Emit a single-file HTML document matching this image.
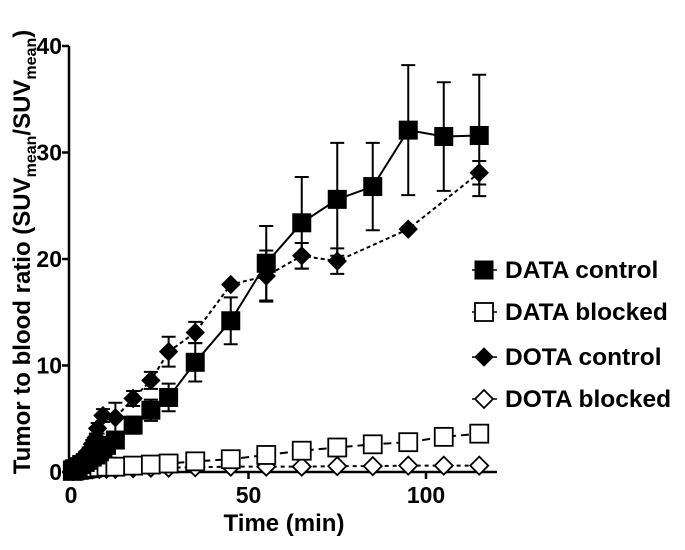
<!DOCTYPE html>
<html><head><meta charset="utf-8"><style>
body{margin:0;background:#fff;}
svg text{font-family:"Liberation Sans",Arial,sans-serif;font-weight:bold;fill:#000;}
</style></head><body>
<svg id="chart" width="685" height="545" viewBox="0 0 685 545" xmlns="http://www.w3.org/2000/svg">
<g id="axes"></g>
<g id="series"></g>
<g id="legend"></g>
</svg>
<script>
const xTicks=[0,50,100];
const yTicks=[0,10,20,30,40];
const dataCtrlT=[0.5,1,2,3,4,5,6,7,8,9,10,12.5,17.5,22.5,27.5,35,45,55,65,75,85,95,105,115];
const dataCtrlV=[0.2,0.3,0.5,0.7,0.9,1.1,1.4,1.6,1.9,2.2,2.5,3.0,4.4,5.8,7.0,10.3,14.2,19.6,23.4,25.6,26.8,32.1,31.5,31.6];
const dataCtrlE=[0.1,0.1,0.2,0.2,0.3,0.3,0.4,0.4,0.5,0.5,0.6,0.7,0.8,1.0,1.3,1.8,2.2,3.5,4.3,5.3,4.1,6.1,5.1,5.7];
const dotaCtrlT=[0.5,1,2,3,4,5,6,7,7.5,9,12.5,17.5,22.5,27.5,35,45,55,65,75,95,115];
const dotaCtrlV=[0.2,0.4,0.8,1.2,1.6,2.0,2.6,3.2,4.1,5.3,5.1,6.9,8.6,11.3,13.1,17.6,18.4,20.3,19.8,22.8,28.1];
const dotaCtrlE=[0.1,0.1,0.2,0.2,0.3,0.3,0.4,0.4,0.5,0.6,1.4,0.7,0.8,1.4,1.0,0,2.4,1.2,1.2,0,1.1];
const blockT=[0.5,1,2,3,4,5,6,8,10,12.5,17.5,22.5,27.5,35,45,55,65,75,85,95,105,115];
const dataBlkV=[0.1,0.15,0.2,0.25,0.3,0.35,0.4,0.45,0.5,0.5,0.6,0.7,0.8,1.0,1.2,1.6,2.0,2.3,2.6,2.8,3.3,3.6];
const dotaBlkV=[0.1,0.12,0.15,0.18,0.2,0.22,0.25,0.28,0.3,0.3,0.35,0.4,0.4,0.45,0.5,0.5,0.5,0.55,0.55,0.6,0.6,0.6];
const legendLabels=["DATA control","DATA blocked","DOTA control","DOTA blocked"];

const NS="http://www.w3.org/2000/svg";
const X=t=>71+t*3.55;
const Y=v=>472-v*10.65;
function mk(tag,attrs,parent){const e=document.createElementNS(NS,tag);for(const k in attrs)e.setAttribute(k,attrs[k]);parent.appendChild(e);return e;}
const axes=document.getElementById('axes'),ser=document.getElementById('series'),leg=document.getElementById('legend');

let ax=mk('line',{x1:69,y1:Y(0),x2:497,y2:Y(0),stroke:'#000','stroke-width':2.5},axes);


let ay=mk('line',{x1:69,y1:Y(0)+1,x2:69,y2:Y(40),stroke:'#000','stroke-width':2.5},axes);


xTicks.forEach(t=>{
  const l=mk('line',{x1:X(t),y1:Y(0),x2:X(t),y2:Y(0)+7,stroke:'#000','stroke-width':2.5},axes);
  
  
  const tx=mk('text',{x:X(t),y:503,'text-anchor':'middle','font-size':23},axes);tx.textContent=t;
  
  
});
yTicks.forEach(v=>{
  const l=mk('line',{x1:62,y1:Y(v),x2:69,y2:Y(v),stroke:'#000','stroke-width':2.5},axes);
  
  
  const tx=mk('text',{x:62,y:Y(v)+8,'text-anchor':'end','font-size':23},axes);tx.textContent=v;
  
  
});
const xt=mk('text',{x:284,y:531,'text-anchor':'middle','font-size':24},axes);xt.textContent='Time (min)';


const yt=mk('text',{x:0,y:0,'text-anchor':'middle','font-size':24,transform:'translate(30,252) rotate(-90)'},axes);
yt.innerHTML='Tumor to blood ratio (SUV<tspan font-size="16" dy="6">mean</tspan><tspan dy="-6">/SUV</tspan><tspan font-size="16" dy="6">mean</tspan><tspan dy="-6">)</tspan>';



function marker(type,cx,cy,parent,filled){
  let e;
  if(type==='sq'){e=mk('rect',{x:cx-9,y:cy-9,width:18,height:18},parent);}
  else{e=mk('polygon',{points:`${cx},${cy-9} ${cx+9},${cy} ${cx},${cy+9} ${cx-9},${cy}`},parent);}
  if(filled){e.setAttribute('fill','#000');e.setAttribute('stroke','#000');e.setAttribute('stroke-width','1');}
  else{e.setAttribute('fill','#fff');e.setAttribute('stroke','#000');e.setAttribute('stroke-width','1.8');}
  return e;
}
function drawSeries(name,T,V,E,type,filled,dash){
  const g=mk('g',{},ser);
  
  
  const pts=T.map((t,i)=>X(t)+','+Y(V[i])).join(' ');
  const pl=mk('polyline',{points:pts,fill:'none',stroke:'#000','stroke-width':2,'stroke-dasharray':dash},g);
  
  
  if(E){T.forEach((t,i)=>{if(!E[i])return;const x=X(t),y1=Y(V[i]+E[i]),y2=Y(V[i]-E[i]);
    const eb=mk('path',{d:`M${x},${y1}V${y2}M${x-7},${y1}H${x+7}M${x-7},${y2}H${x+7}`,stroke:'#000','stroke-width':2,fill:'none'},g);
    
    });}
  T.forEach((t,i)=>{const m=marker(type,X(t),Y(V[i]),g,filled);
    
    });
}
drawSeries('dota-blocked',blockT,dotaBlkV,null,'di',false,'4 4');
drawSeries('data-blocked',blockT,dataBlkV,null,'sq',false,'8 5');
drawSeries('dota-control',dotaCtrlT,dotaCtrlV,dotaCtrlE,'di',true,'4 3');
drawSeries('data-control',dataCtrlT,dataCtrlV,dataCtrlE,'sq',true,'none');

const legY=[270,312,357,399];
const legType=['sq','sq','di','di'];const legFill=[true,false,true,false];
legendLabels.forEach((lab,i)=>{
  const g=mk('g',{},leg);
  
  
  mk('line',{x1:472,y1:legY[i],x2:497,y2:legY[i],stroke:'#000','stroke-width':1.5},g);
  marker(legType[i],484,legY[i],g,legFill[i]);
  const t=mk('text',{x:505,y:legY[i]+8,'font-size':24.5},g);t.textContent=lab;
});
</script>
</body></html>
